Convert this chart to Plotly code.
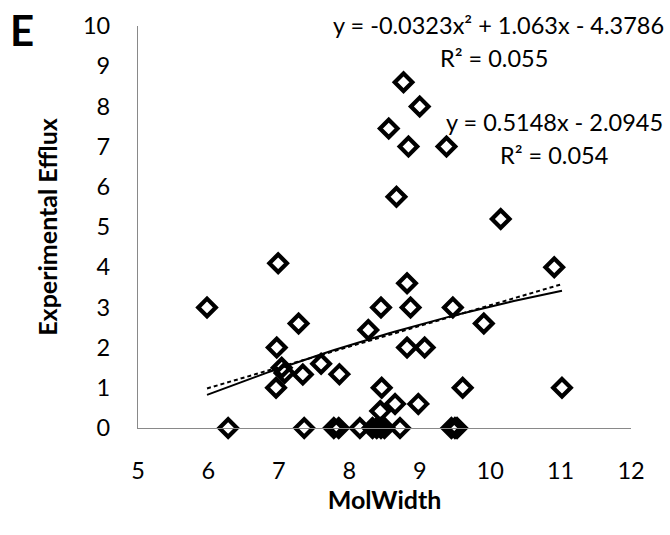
import numpy as np
import plotly.graph_objects as go

# --- data ---
mol_width = [5.98, 6.99, 7.28, 6.97, 7.04, 7.08, 6.96, 7.34, 7.60, 7.86,
             8.27, 8.45, 8.87, 9.47, 8.82, 8.82, 9.07, 8.46, 9.61, 8.65,
             8.98, 8.44, 10.15, 10.91, 9.91, 11.02, 8.77, 9.00, 8.56, 8.84,
             9.38, 8.67,
             6.28, 7.36, 7.78, 7.85, 8.15, 8.33, 8.39, 8.45, 8.50, 8.72,
             9.45, 9.50, 9.53]
efflux = [3.0, 4.1, 2.6, 2.0, 1.5, 1.37, 1.0, 1.33, 1.6, 1.34,
          2.44, 3.0, 3.0, 3.0, 3.6, 2.0, 2.0, 1.0, 1.0, 0.6,
          0.6, 0.42, 5.2, 4.0, 2.6, 1.0, 8.6, 8.0, 7.45, 7.0,
          7.0, 5.75,
          0, 0, 0, 0, 0, 0, 0, 0, 0, 0,
          0, 0, 0]

# trendline coefficients as displayed
poly_coef = [-0.0323, 1.063, -4.3786]
lin_coef = [0.5148, -2.0945]
poly_label = "y = -0.0323x² + 1.063x - 4.3786"
poly_r2 = "R² = 0.055"
lin_label = "y = 0.5148x - 2.0945"
lin_r2 = "R² = 0.054"

x_ticks = [5, 6, 7, 8, 9, 10, 11, 12]
y_ticks = [0, 1, 2, 3, 4, 5, 6, 7, 8, 9, 10]

xs = np.linspace(min(mol_width), max(mol_width), 60)
poly_y = np.polyval(poly_coef, xs)
lin_y = np.polyval(lin_coef, xs)

FONT = "Lato"
FS = 23.5

fig = go.Figure()
fig.add_trace(go.Scatter(
    x=mol_width, y=efflux, mode="markers",
    marker=dict(symbol="diamond-open", size=13.5, color="black",
                line=dict(color="black", width=4.2)),
    cliponaxis=False, showlegend=False))
fig.add_trace(go.Scatter(
    x=xs, y=poly_y, mode="lines",
    line=dict(color="black", width=2), showlegend=False))
fig.add_trace(go.Scatter(
    x=xs, y=lin_y, mode="lines",
    line=dict(color="black", width=2, dash="4px,3px"), showlegend=False))

W, H = 670, 535
ml, mr, mt, mb = 138, 39, 26, 107

fig.update_layout(
    width=W, height=H,
    margin=dict(l=ml, r=mr, t=mt, b=mb, pad=0),
    paper_bgcolor="white", plot_bgcolor="white",
    font=dict(family=FONT, size=FS, color="black"),
    showlegend=False,
)
fig.update_xaxes(
    range=[5, 12], tickvals=x_ticks, ticktext=[str(v) for v in x_ticks],
    showgrid=False, zeroline=False,
    showline=True, linecolor="#898989", linewidth=1.2,
    ticks="outside", ticklen=22, tickcolor="rgba(0,0,0,0)",
    tickfont=dict(family=FONT, size=FS),
    title=dict(text="<b>MolWidth</b>", font=dict(family=FONT, size=25), standoff=6),
)
fig.update_yaxes(
    range=[0, 10], tickvals=y_ticks, ticktext=[str(v) for v in y_ticks],
    showgrid=False, zeroline=False,
    showline=True, linecolor="#898989", linewidth=1.2,
    ticks="outside", ticklen=22, tickcolor="rgba(0,0,0,0)",
    tickfont=dict(family=FONT, size=FS),
    title=dict(text="<b>Experimental Efflux</b>", font=dict(family=FONT, size=25), standoff=18),
)

pw, ph = W - ml - mr, H - mt - mb
def px(xp, yp):
    return (xp - ml) / pw, (H - mb - yp) / ph

anns = [
    (poly_label, 498, 25),
    (poly_r2, 494, 58),
    (lin_label, 554.5, 122),
    (lin_r2, 554, 155),
]
for text, xp, yp in anns:
    ax, ay = px(xp, yp)
    fig.add_annotation(x=ax, y=ay, xref="paper", yref="paper", text=text,
                       showarrow=False, xanchor="center", yanchor="middle",
                       font=dict(family=FONT, size=FS, color="black"))

ex, ey = px(22, 30)
fig.add_annotation(x=ex, y=ey, xref="paper", yref="paper", text="<b>E</b>",
                   showarrow=False, xanchor="center", yanchor="middle",
                   font=dict(family=FONT, size=42, color="black"))

fig.write_html("out.html")
